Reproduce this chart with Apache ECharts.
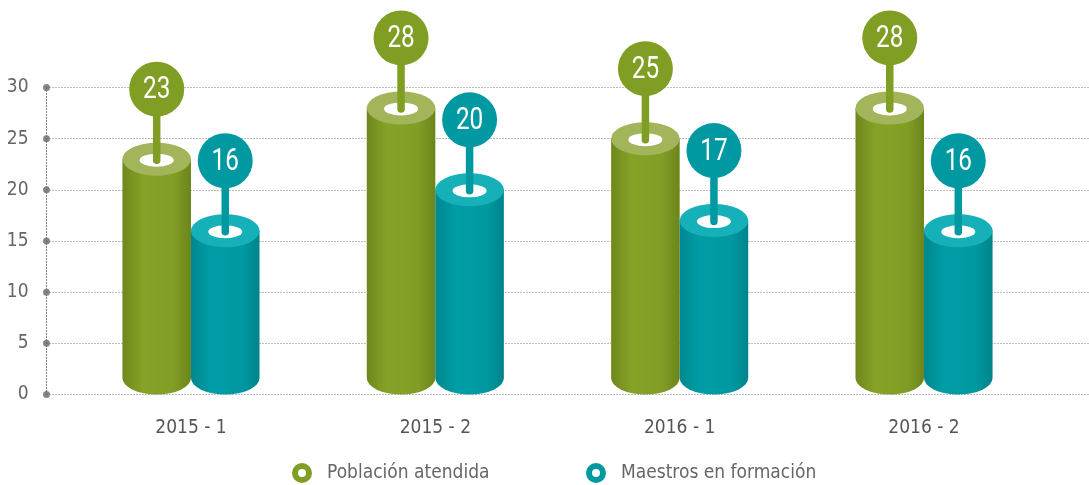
<!DOCTYPE html>
<html>
<head>
<meta charset="utf-8">
<script src="https://cdn.jsdelivr.net/npm/echarts@6/dist/echarts.min.js"></script>
<style>html,body{margin:0;padding:0;background:#fff;}#c{width:1089px;height:485px;}</style>
</head>
<body>
<div id="c"></div>
<script>
const categories = ['2015 - 1', '2015 - 2', '2016 - 1', '2016 - 2'];
const poblacion = [23, 28, 25, 28];
const maestros = [16, 20, 17, 16];
const yTicks = [0, 5, 10, 15, 20, 25, 30];
const seriesNames = ['Población atendida', 'Maestros en formación'];

const FONT = "'DejaVu Sans Condensed','Roboto Condensed',sans-serif";
const GREEN = {
  side: ['#6e881c', '#86a227', '#819d25', '#6c851b'],
  top: '#a3b55b', pin: '#809d24'
};
const TEAL = {
  side: ['#00878f', '#009da6', '#0098a1', '#00838b'],
  top: '#15b0b8', pin: '#0099a2'
};

function makeRender(side, pal) {
  return function (params, api) {
    const xi = api.value(0), v = api.value(1);
    const c = api.coord([xi, v]);
    const z = api.coord([xi, 0]);
    const band = api.size([1, 0])[0];
    const w = band * 0.2805;
    const cx = c[0] + side * w / 2;
    const x0 = cx - w / 2, x1 = cx + w / 2;
    const rx = w / 2, ry = 16.5;
    const yT = c[1];
    const yB = z[1] - ry;
    const pinY = yT - 70;
    const grad = new echarts.graphic.LinearGradient(0, 0, 1, 0, [
      { offset: 0, color: pal.side[0] },
      { offset: 0.3, color: pal.side[1] },
      { offset: 0.75, color: pal.side[2] },
      { offset: 1, color: pal.side[3] }
    ]);
    const body = `M${x0} ${yT} L${x0} ${yB} A${rx} ${ry} 0 0 0 ${x1} ${yB} L${x1} ${yT} Z`;
    const top = `M${x0} ${yT} A${rx} ${ry} 0 1 0 ${x1} ${yT} A${rx} ${ry} 0 1 0 ${x0} ${yT} Z`;
    const hole = `M${cx - 17} ${yT + 1} A17 6.5 0 1 0 ${cx + 17} ${yT + 1} A17 6.5 0 1 0 ${cx - 17} ${yT + 1} Z`;
    return {
      type: 'group',
      children: [
        { type: 'path', shape: { pathData: body }, style: { fill: grad } },
        { type: 'path', shape: { pathData: top }, style: { fill: pal.top } },
        { type: 'path', shape: { pathData: hole }, style: { fill: '#fff' } },
        { type: 'line', shape: { x1: cx, y1: yT + 1, x2: cx, y2: pinY }, style: { stroke: pal.pin, lineWidth: 7.5, lineCap: 'round' } },
        { type: 'circle', shape: { cx: cx, cy: pinY, r: 27.5 }, style: { fill: pal.pin } },
        {
          type: 'text', x: cx, y: pinY + 1, scaleX: 0.76,
          style: { text: String(v), fill: '#fff', font: `400 32px Roboto, sans-serif`, align: 'center', verticalAlign: 'middle' }
        }
      ]
    };
  };
}

const chart = echarts.init(document.getElementById('c'), null, { renderer: 'canvas' });
chart.setOption({
  animation: false,
  grid: [
    { left: 46.5, right: 0, top: 87.5, bottom: 90.5 },
    { left: 68.8, right: 42.8, top: 87.5, bottom: 90.5 }
  ],
  xAxis: [
    { type: 'value', gridIndex: 0, min: 0, max: 1, show: false },
    {
      type: 'category', gridIndex: 1, data: categories,
      axisLine: { show: false }, axisTick: { show: false },
      axisLabel: { color: '#555', fontSize: 19, fontFamily: FONT, margin: 24 }
    }
  ],
  yAxis: [
    {
      type: 'value', gridIndex: 0, min: 0, max: 30, interval: 5,
      axisLine: { show: true, lineStyle: { color: '#7a7a7a', type: [1, 2], width: 1 } },
      axisTick: { show: false },
      axisLabel: { color: '#666', fontSize: 19, fontFamily: FONT, margin: 18 },
      splitLine: { show: true, lineStyle: { color: '#7a7a7a', type: [1, 2], width: 1 } }
    },
    { type: 'value', gridIndex: 1, min: 0, max: 30, interval: 5, show: false, splitLine: { show: false } }
  ],
  legend: [
    {
      left: 287, top: 458, itemWidth: 14, itemHeight: 14,
      textStyle: { color: '#666', fontSize: 19, fontFamily: FONT, padding: [0, 0, 0, 13] },
      data: [{ name: seriesNames[0], icon: 'circle', itemStyle: { color: '#fff', borderColor: GREEN.pin, borderWidth: 6 } }]
    },
    {
      left: 581, top: 458, itemWidth: 14, itemHeight: 14,
      textStyle: { color: '#666', fontSize: 19, fontFamily: FONT, padding: [0, 0, 0, 13] },
      data: [{ name: seriesNames[1], icon: 'circle', itemStyle: { color: '#fff', borderColor: TEAL.pin, borderWidth: 6 } }]
    }
  ],
  series: [
    {
      type: 'scatter', xAxisIndex: 0, yAxisIndex: 0, silent: true,
      symbolSize: 7, itemStyle: { color: '#666' },
      data: yTicks.map(t => [0, t])
    },
    {
      name: seriesNames[0], type: 'custom', xAxisIndex: 1, yAxisIndex: 1,
      itemStyle: { color: GREEN.pin },
      renderItem: makeRender(-1, GREEN),
      data: poblacion.map((v, i) => [i, v])
    },
    {
      name: seriesNames[1], type: 'custom', xAxisIndex: 1, yAxisIndex: 1,
      itemStyle: { color: TEAL.pin },
      renderItem: makeRender(1, TEAL),
      data: maestros.map((v, i) => [i, v])
    }
  ]
});
</script>
</body>
</html>
